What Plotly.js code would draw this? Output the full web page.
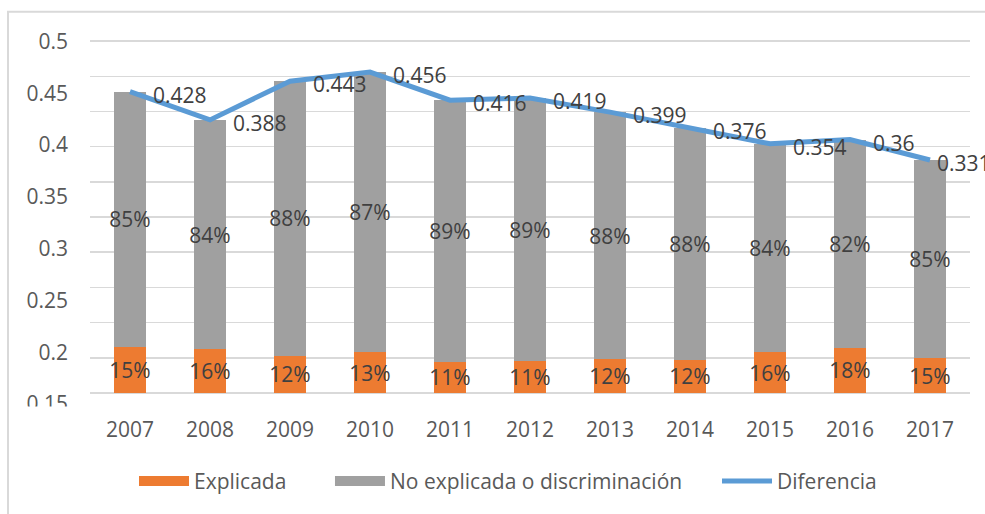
<!DOCTYPE html>
<html>
<head>
<meta charset="utf-8">
<script src="https://cdn.plot.ly/plotly-3.0.1.min.js"></script>
<style>html,body{margin:0;padding:0;background:#fff;}#chart{width:985px;height:514px;}</style>
</head>
<body>
<div id="chart"></div>
<script>
// Data
var years = ['2007','2008','2009','2010','2011','2012','2013','2014','2015','2016','2017'];
var diferencia = [0.428, 0.388, 0.443, 0.456, 0.416, 0.419, 0.399, 0.376, 0.354, 0.36, 0.331];
var explicada = [0.065, 0.062, 0.053, 0.058, 0.044, 0.045, 0.048, 0.047, 0.058, 0.064, 0.049];
var noExplicada = [0.363, 0.326, 0.390, 0.398, 0.372, 0.374, 0.351, 0.329, 0.296, 0.296, 0.282];
var explicadaPct = ['15%','16%','12%','13%','11%','11%','12%','12%','16%','18%','15%'];
var noExplicadaPct = ['85%','84%','88%','87%','89%','89%','88%','88%','84%','82%','85%'];
var diferenciaLabels = ['0.428','0.388','0.443','0.456','0.416','0.419','0.399','0.376','0.354','0.36','0.331'];
var seriesNames = ['Explicada', 'No explicada o discriminación', 'Diferencia'];
var labelAxisTicks = [0.15, 0.2, 0.25, 0.3, 0.35, 0.4, 0.45, 0.5];

var FONT = '"Open Sans", "Noto Sans", sans-serif';
var ORANGE = '#ED7B31';
var GRAY = '#A0A0A0';
var BLUE = '#5B9BD5';
var LABEL = '#404040';
var TICK = '#595959';

var traces = [
  {
    type: 'bar', x: years, y: explicada, name: seriesNames[0], showlegend: false,
    marker: {color: ORANGE, line: {width: 0}},
    text: explicadaPct, textposition: 'inside', insidetextanchor: 'middle',
    textangle: 0, constraintext: 'none', cliponaxis: false,
    textfont: {family: FONT, size: 21, color: LABEL}, hoverinfo: 'skip'
  },
  {
    type: 'bar', x: years, y: noExplicada, name: seriesNames[1], showlegend: false,
    marker: {color: GRAY, line: {width: 0}},
    text: noExplicadaPct, textposition: 'inside', insidetextanchor: 'middle',
    textangle: 0, constraintext: 'none', cliponaxis: false,
    textfont: {family: FONT, size: 21, color: LABEL}, hoverinfo: 'skip'
  },
  {
    type: 'scatter', mode: 'lines', x: years, y: diferencia, name: seriesNames[2],
    showlegend: false, cliponaxis: false,
    line: {color: BLUE, width: 5}, hoverinfo: 'skip'
  },
  // empty trace so the label axis (yaxis2) gets drawn
  {type: 'scatter', mode: 'lines', x: [null], y: [null], yaxis: 'y2', showlegend: false, hoverinfo: 'skip'},
  // legend entries (wide swatches as in the reference)
  {type: 'scatter', mode: 'lines', x: [null], y: [null], name: seriesNames[0], legend: 'legend',
   line: {color: ORANGE, width: 10}, hoverinfo: 'skip'},
  {type: 'scatter', mode: 'lines', x: [null], y: [null], name: seriesNames[1], legend: 'legend2',
   line: {color: GRAY, width: 10}, hoverinfo: 'skip'},
  {type: 'scatter', mode: 'lines', x: [null], y: [null], name: seriesNames[2], legend: 'legend3',
   line: {color: BLUE, width: 5}, hoverinfo: 'skip'}
];

// data labels of the Diferencia line, to the right of each point
// (x is the category serial number, as category axes expect for annotations)
var lineLabels = years.map(function (yr, i) {
  var last = (i === years.length - 1);
  return {
    x: i, y: diferencia[i], xref: 'x', yref: 'y',
    text: diferenciaLabels[i], showarrow: false,
    xanchor: 'left', yanchor: 'middle',
    xshift: last ? 5 : 21, yshift: -3,
    font: {family: FONT, size: 21, color: LABEL}
  };
});

function legendAt(xp) {
  return {
    orientation: 'h', x: xp, xanchor: 'left', y: -0.174, yanchor: 'middle',
    font: {family: FONT, size: 21, color: TICK}, itemwidth: 50,
    bgcolor: 'rgba(0,0,0,0)'
  };
}

var layout = {
  width: 985, height: 514,
  margin: {l: 90, r: 15, t: 39.6, b: 94, pad: 0},
  paper_bgcolor: '#ffffff', plot_bgcolor: 'rgba(0,0,0,0)',
  barmode: 'stack', bargap: 0.59,
  font: {family: FONT, size: 21, color: TICK},
  showlegend: true,
  legend: legendAt(0.05),
  legend2: legendAt(0.2727),
  legend3: legendAt(0.7125),
  xaxis: {
    type: 'category', anchor: 'y', range: [-0.5, 10.5], autorange: false,
    showgrid: false, zeroline: false, showline: false,
    ticks: '', ticklabelstandoff: 22,
    tickfont: {family: FONT, size: 21, color: TICK}
  },
  yaxis: {
    domain: [0.06125, 1], range: [0, 0.5015], autorange: false, dtick: 0.05, tick0: 0,
    showticklabels: false, ticks: '',
    showgrid: true, gridcolor: '#D9D9D9', gridwidth: 1.5,
    zeroline: true, zerolinecolor: '#D9D9D9', zerolinewidth: 1.5, showline: false
  },
  yaxis2: {
    domain: [0, 1], anchor: 'x', side: 'left',
    range: [0.13856, 0.50134], autorange: false, tickmode: 'array', tickvals: labelAxisTicks,
    ticktext: labelAxisTicks.map(String),
    showgrid: false, zeroline: false, showline: false, ticks: '',
    ticklabelstandoff: 21,
    tickfont: {family: FONT, size: 21, color: TICK}
  },
  annotations: lineLabels,
  shapes: [
    {type: 'rect', xref: 'paper', yref: 'paper', x0: -0.0932, x1: 1.03, y0: -0.27, y1: 1.0752,
     line: {color: '#D9D9D9', width: 2}, fillcolor: 'rgba(0,0,0,0)', layer: 'below'},
    {type: 'rect', xref: 'paper', yref: 'paper', x0: -0.0795, x1: -0.0057, y0: -0.0131, y1: 0.025,
     line: {width: 0}, fillcolor: '#ffffff', layer: 'above'}
  ]
};

Plotly.newPlot('chart', traces, layout, {displayModeBar: false, staticPlot: true});
</script>
</body>
</html>
